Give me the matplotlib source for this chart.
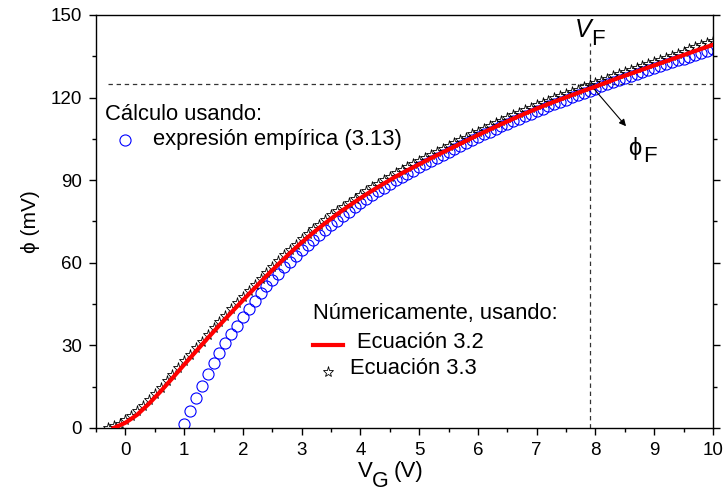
import numpy as np
import matplotlib
matplotlib.use("Agg")
import matplotlib.pyplot as plt

plt.rcParams['font.family'] = ['Liberation Sans', 'DejaVu Sans']

# Ecuacion 3.2 (linea continua), paso 0.2 V desde -0.2 V
vg_eq32 = np.round(np.arange(-0.2, 10.001, 0.2), 1)
phi_eq32 = [0.0, 1.9, 4.8, 8.8, 13.3, 18.1, 23.0, 27.8, 32.6, 37.3,
            41.9, 46.4, 50.8, 55.2, 59.4, 63.5, 67.4, 71.0, 74.4, 77.6,
            80.6, 83.5, 86.2, 88.8, 91.3, 93.6, 95.8, 98.0, 100.1, 102.2,
            104.3, 106.4, 108.4, 110.4, 112.3, 114.2, 116.0, 117.7, 119.3, 120.9,
            122.5, 124.0, 125.6, 127.2, 128.7, 130.2, 131.7, 133.2, 134.7, 136.2,
            137.7, 139.2]

# Ecuacion 3.3 (estrellas), paso 0.1 V desde -0.3 V
vg_eq33 = np.round(np.arange(-0.3, 10.001, 0.1), 1)
phi_eq33 = [0.0, 0.6, 1.6, 2.9, 4.5, 6.2, 8.0, 10.0, 12.2, 14.5,
            16.9, 19.3, 21.8, 24.2, 26.6, 29.0, 31.4, 33.8, 36.2, 38.5,
            40.8, 43.1, 45.4, 47.6, 49.8, 52.0, 54.2, 56.4, 58.5, 60.6,
            62.7, 64.7, 66.6, 68.6, 70.4, 72.2, 73.9, 75.6, 77.2, 78.8,
            80.3, 81.8, 83.3, 84.7, 86.1, 87.4, 88.7, 90.0, 91.3, 92.5,
            93.7, 94.8, 95.9, 97.0, 98.1, 99.2, 100.3, 101.3, 102.4, 103.4,
            104.5, 105.5, 106.6, 107.6, 108.6, 109.6, 110.6, 111.6, 112.6, 113.5,
            114.5, 115.4, 116.3, 117.2, 118.1, 118.9, 119.7, 120.5, 121.3, 122.1,
            122.9, 123.7, 124.5, 125.3, 126.1, 126.9, 127.7, 128.5, 129.2, 130.0,
            130.7, 131.5, 132.2, 133.0, 133.7, 134.5, 135.2, 136.0, 136.7, 137.5,
            138.2, 139.0, 139.7, 140.5]

# expresion empirica (3.13), paso 0.1 V desde 1.0 V
vg_emp = np.round(np.arange(1.0, 10.001, 0.1), 1)
phi_emp = [1.5, 6.3, 11.0, 15.4, 19.6, 23.7, 27.4, 30.8, 34.1, 37.2,
           40.4, 43.4, 46.2, 48.9, 51.4, 53.8, 56.1, 58.3, 60.4, 62.5,
           64.5, 66.4, 68.3, 70.1, 71.9, 73.6, 75.3, 76.9, 78.5, 80.1,
           81.6, 83.1, 84.5, 85.9, 87.3, 88.6, 89.9, 91.1, 92.3, 93.5,
           94.7, 95.9, 97.0, 98.1, 99.2, 100.3, 101.4, 102.5, 103.5, 104.6,
           105.6, 106.6, 107.6, 108.6, 109.6, 110.5, 111.5, 112.4, 113.3, 114.2,
           115.1, 116.0, 116.8, 117.7, 118.5, 119.3, 120.1, 120.9, 121.7, 122.5,
           123.3, 124.1, 124.8, 125.6, 126.3, 127.1, 127.8, 128.5, 129.2, 129.9,
           130.7, 131.4, 132.1, 132.8, 133.5, 134.2, 134.9, 135.6, 136.3, 137.0,
           137.7]

VF = 7.9
phiF = 125.0

W, H = 724, 503
fig = plt.figure(figsize=(W / 100, H / 100), dpi=100)
ax = fig.add_axes([96 / W, 1 - 428 / H, (713 - 96) / W, (428 - 15) / H])

def fx(px):
    return px / W

def fy(py):
    return 1 - py / H

def ftext(px, py, s, **kw):
    fig.text(fx(px), fy(py), s, **kw)

ax.plot(vg_emp, phi_emp, 'o', ms=8, mfc='none', mec='#0000ff', mew=0.8, zorder=2)
ax.plot(vg_eq33, phi_eq33, '*', ms=8, mfc='none', mec='black', mew=0.6, zorder=3)
ax.plot(vg_eq32, phi_eq32, '-', color='#ff0000', lw=3, zorder=4)

dash = dict(color='#333333', lw=0.9, dashes=(3.5, 3))
ax.plot([-0.3, 10], [phiF, phiF], **dash, zorder=1)
ax.plot([VF, VF], [0, 140], **dash, zorder=1)

ax.annotate('', xy=(8.52, 109.6), xytext=(7.93, 124.3),
            arrowprops=dict(arrowstyle='-|>', color='black', lw=0.8,
                            mutation_scale=10, shrinkA=0, shrinkB=0))

# V_F y phi_F: subindice casi del mismo tamano que la letra
ftext(575, 37, 'V', fontsize=18, style='italic', va='baseline')
ftext(591, 45, 'F', fontsize=16, va='baseline')
ftext(628, 155, 'ϕ', fontsize=17, va='baseline')
ftext(643, 162, 'F', fontsize=16, va='baseline')

ax.set_xlim(-0.5, 10)
ax.set_ylim(0, 150)
ax.set_xticks(range(0, 11))
ax.set_xticks(np.arange(-0.5, 10.01, 0.5), minor=True)
ax.set_yticks(range(0, 151, 30))
ax.set_yticks(range(0, 151, 15), minor=True)
ax.tick_params(which='both', direction='out', right=True, labelsize=13.5, width=1)
ax.tick_params(which='major', length=5, pad=5)
ax.tick_params(which='minor', length=3)
for s in ax.spines.values():
    s.set_linewidth(1)

# etiqueta del eje x: V con subindice G grande
ftext(358, 477, 'V', fontsize=16, va='baseline')
ftext(372, 487, 'G', fontsize=15.5, va='baseline')
ftext(394, 477, '(V)', fontsize=16, va='baseline')
ax.set_ylabel('ϕ (mV)', fontsize=15, labelpad=8)

# leyendas dibujadas a mano
ftext(105, 114, 'Cálculo usando:', fontsize=15.8, va='center', ha='left')
ax.plot([fx(125)], [fy(140)], 'o', ms=8, mfc='none', mec='#0000ff', mew=0.8,
        transform=fig.transFigure, clip_on=False)
ftext(153, 139, 'expresión empírica (3.13)', fontsize=15.8, va='center', ha='left')

ftext(313, 314, 'Númericamente, usando:', fontsize=15.8, va='center', ha='left')
ax.plot([fx(313), fx(343)], [fy(345), fy(345)], '-', color='#ff0000', lw=3,
        transform=fig.transFigure, clip_on=False)
ftext(357, 342, 'Ecuación 3.2', fontsize=15.8, va='center', ha='left')
ax.plot([fx(328)], [fy(372)], '*', ms=8, mfc='none', mec='black', mew=0.6,
        transform=fig.transFigure, clip_on=False)
ftext(350, 369, 'Ecuación 3.3', fontsize=15.8, va='center', ha='left')

fig.savefig('out.png', dpi=100)
